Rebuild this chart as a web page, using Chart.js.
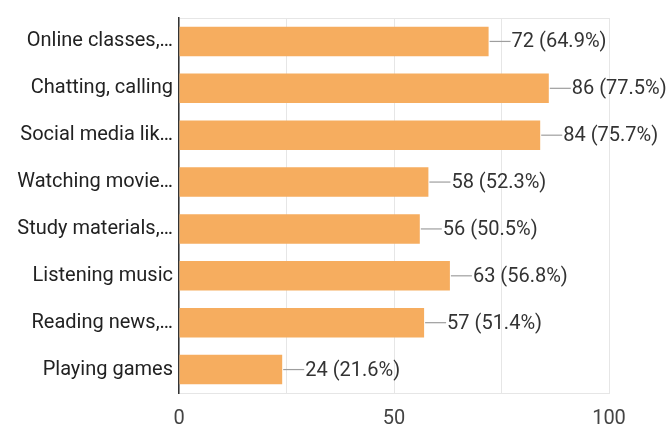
<!DOCTYPE html>
<html>
<head>
<meta charset="utf-8">
<script src="https://cdn.jsdelivr.net/npm/chart.js@4/dist/chart.umd.min.js"></script>
<style>
  html, body { margin: 0; padding: 0; background: #fff; }
  #wrap { width: 669px; height: 426px; }
</style>
</head>
<body>
<div id="wrap"><canvas id="chart"></canvas></div>
<script>
// Respuestas por actividad (conteo y porcentaje del total)
const categories = [
  "Online classes,…",
  "Chatting, calling",
  "Social media lik…",
  "Watching movie…",
  "Study materials,…",
  "Listening music",
  "Reading news,…",
  "Playing games"
]
const counts = [72, 86, 84, 58, 56, 63, 57, 24]
const percents = ["64.9%", "77.5%", "75.7%", "52.3%", "50.5%", "56.8%", "51.4%", "21.6%"]
const xTicks = [0, 50, 100]

// Etiqueta con línea guía al final de cada barra: "72 (64.9%)"
const valueLabels = {
  id: "valueLabels",
  afterDatasetsDraw(chart) {
    const ctx = chart.ctx
    const meta = chart.getDatasetMeta(0)
    ctx.save()
    meta.data.forEach((bar, i) => {
      const x0 = bar.x + 1
      ctx.strokeStyle = "#9e9e9e"
      ctx.lineWidth = 1.2
      ctx.beginPath()
      ctx.moveTo(x0, bar.y)
      ctx.lineTo(x0 + 21, bar.y)
      ctx.stroke()
      ctx.fillStyle = "#333"
      ctx.font = "20px Roboto"
      ctx.textBaseline = "middle"
      ctx.textAlign = "left"
      ctx.fillText(`${counts[i]} (${percents[i]})`, x0 + 22, bar.y + 1)
    })
    ctx.restore()
  }
}

new Chart(document.getElementById("chart"), {
  type: "bar",
  data: {
    labels: categories,
    datasets: [{
      data: counts,
      backgroundColor: "#f6ad5f",
      borderWidth: 0,
      barPercentage: 0.7,
      categoryPercentage: 0.9
    }]
  },
  options: {
    indexAxis: "y",
    responsive: true,
    maintainAspectRatio: false,
    animation: false,
    layout: { padding: { top: 13, right: 60, left: 0, bottom: 0 } },
    plugins: { legend: { display: false }, tooltip: { enabled: false } },
    scales: {
      x: {
        min: 0,
        max: 100,
        ticks: {
          stepSize: 25,
          color: "#444",
          font: { family: "Roboto", size: 20 },
          padding: 14,
          callback: (v) => (xTicks.includes(v) ? v : "")
        },
        grid: { color: "#e6e6e6", lineWidth: 1, drawTicks: false },
        border: { color: "#e6e6e6", width: 1 },
        afterFit: (scale) => { scale.height = 33 }
      },
      y: {
        ticks: {
          color: "#222",
          font: { family: "Roboto", size: 20 },
          padding: 6
        },
        grid: {
          drawTicks: false,
          color: (c) => (c.index === 0 || c.index === categories.length ? "#e6e6e6" : "rgba(0,0,0,0)")
        },
        border: { color: "#333", width: 1.5 },
        afterFit: (scale) => { scale.width = 179 }
      }
    }
  },
  plugins: [valueLabels]
})
</script>
</body>
</html>
